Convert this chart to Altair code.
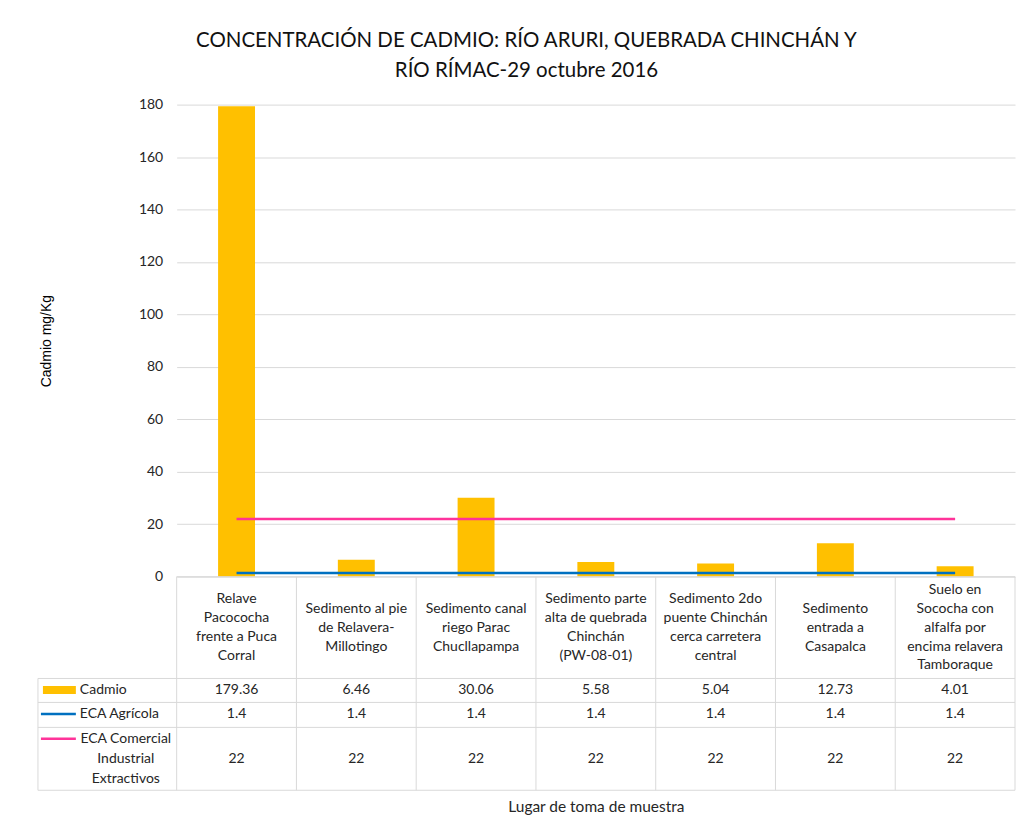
import altair as alt
import pandas as pd

# ---------------- data ----------------
categories = [
    "Relave Pacococha frente a Puca Corral",
    "Sedimento al pie de Relavera-Millotingo",
    "Sedimento canal riego Parac Chucllapampa",
    "Sedimento parte alta de quebrada Chinchán (PW-08-01)",
    "Sedimento 2do puente Chinchán cerca carretera central",
    "Sedimento entrada a Casapalca",
    "Suelo en Sococha con alfalfa por encima relavera Tamboraque",
]
category_labels = [
    "Relave\nPacococha\nfrente a Puca\nCorral",
    "Sedimento al pie\nde Relavera-\nMillotingo",
    "Sedimento canal\nriego Parac\nChucllapampa",
    "Sedimento parte\nalta de quebrada\nChinchán\n(PW-08-01)",
    "Sedimento 2do\npuente Chinchán\ncerca carretera\ncentral",
    "Sedimento\nentrada a\nCasapalca",
    "Suelo en\nSococha con\nalfalfa por\nencima relavera\nTamboraque",
]
cadmio = [179.36, 6.46, 30.06, 5.58, 5.04, 12.73, 4.01]
eca_agricola = [1.4, 1.4, 1.4, 1.4, 1.4, 1.4, 1.4]
eca_comercial = [22, 22, 22, 22, 22, 22, 22]
series_names = ["Cadmio", "ECA Agrícola", "ECA Comercial\nIndustrial\nExtractivos"]
y_ticks = [0, 20, 40, 60, 80, 100, 120, 140, 160, 180]

# ---------------- layout ----------------
W, H, TH = 840, 473, 214
HEADER_H = 102
ROW_EDGES = [102, 126, 151, 214]
ROW_CENTERS = [113.5, 137.5, 182.5]
LEG_LEFT = -139
LH_HDR = 19
LH_LEG = 20

FONT = "Lato"
TXT = "#262626"
GRID = "#D9D9D9"
C_BAR, C_BLUE, C_PINK = "#FFC000", "#0070C0", "#FF3399"
FS_TAB = 14

df = pd.DataFrame({"cat": categories, "label": category_labels,
                   "cadmio": cadmio, "eca_agr": eca_agricola, "eca_com": eca_comercial})

xs = alt.Scale(domain=categories, paddingInner=0, paddingOuter=0)

# ---------------- top chart ----------------
x_top = alt.X("cat:N", sort=categories, scale=xs, axis=None)
y_scale = alt.Scale(domain=[0, 180], nice=False)
y_axis = alt.Axis(values=y_ticks, title="Cadmio mg/Kg", labelFont=FONT, labelFontSize=14,
                  labelColor=TXT, labelPadding=14, ticks=False, domain=False,
                  gridColor=GRID, titleFont="Liberation Sans", titleFontSize=14,
                  titleFontWeight="normal", titleColor="#000", titlePadding=85)

bars = alt.Chart(df).mark_bar(color=C_BAR, size=37).encode(
    x=x_top, y=alt.Y("cadmio:Q", scale=y_scale, axis=y_axis))
blue = alt.Chart(df).mark_line(color=C_BLUE, strokeWidth=2.5).encode(
    x=x_top, y=alt.Y("eca_agr:Q", scale=y_scale))
pink = alt.Chart(df).mark_line(color=C_PINK, strokeWidth=2.5).encode(
    x=x_top, y=alt.Y("eca_com:Q", scale=y_scale))

top = alt.layer(bars, blue, pink).properties(width=W, height=H)

# ---------------- table chart ----------------
ts = alt.Scale(domain=[0, TH], reverse=True, nice=False, zero=False)
x_bot = alt.X("cat:N", sort=categories, scale=xs,
              axis=alt.Axis(labels=False, ticks=False, domain=False, grid=False,
                            title="Lugar de toma de muestra", titleFont=FONT,
                            titleFontSize=15.5, titleFontWeight="normal",
                            titleColor=TXT, titlePadding=9))

def ty(field):
    return alt.Y(field, type="quantitative", scale=ts, axis=None)

# first line position so that the wrapped block is centred in the header row
hdr = df.assign(yc=[HEADER_H / 2 - (lab.count("\n")) * LH_HDR / 2 for lab in category_labels])
header = alt.Chart(hdr).mark_text(font=FONT, fontSize=FS_TAB, lineHeight=LH_HDR, color=TXT,
                                  lineBreak="\n", baseline="middle").encode(
    x=x_bot, y=ty("yc"), text="label:N")

rows = []
for vals, yc in zip([cadmio, eca_agricola, eca_comercial], ROW_CENTERS):
    for c, v in zip(categories, vals):
        rows.append({"cat": c, "yc": yc, "txt": f"{v:g}"})
values = alt.Chart(pd.DataFrame(rows)).mark_text(font=FONT, fontSize=FS_TAB, color=TXT,
                                                 baseline="middle").encode(
    x=x_bot, y=ty("yc"), text="txt:N")

vlines_df = df.assign(y0=0, y1=TH)
vlines = alt.Chart(vlines_df).mark_rule(color=GRID, strokeWidth=1).encode(
    x=alt.X("cat:N", sort=categories, scale=xs, bandPosition=0), y=ty("y0"), y2="y1")
rlines = alt.Chart(vlines_df.tail(1)).mark_rule(color=GRID, strokeWidth=1).encode(
    x=alt.X("cat:N", sort=categories, scale=xs, bandPosition=1), y=ty("y0"), y2="y1")

top_line = alt.Chart(pd.DataFrame({"y": [0]})).mark_rule(color=GRID, strokeWidth=1).encode(
    x=alt.value(0), x2=alt.value(W), y=ty("y"))
hlines = alt.Chart(pd.DataFrame({"y": ROW_EDGES})).mark_rule(color=GRID, strokeWidth=1).encode(
    x=alt.value(LEG_LEFT), x2=alt.value(W), y=ty("y"))
leg_border = alt.Chart(pd.DataFrame({"y0": [ROW_EDGES[0]], "y1": [ROW_EDGES[-1]]})).mark_rule(
    color=GRID, strokeWidth=1).encode(x=alt.value(LEG_LEFT), y=ty("y0"), y2="y1")

sw = pd.DataFrame({"y0": [ROW_CENTERS[0] - 4], "y1": [ROW_CENTERS[0] + 4]})
swatch = alt.Chart(sw).mark_rect(color=C_BAR).encode(
    x=alt.value(-134), x2=alt.value(-101), y=ty("y0"), y2="y1")
leg3_first = ROW_CENTERS[2] - series_names[2].count("\n") * LH_LEG / 2
leg_blue = alt.Chart(pd.DataFrame({"y": [ROW_CENTERS[1]]})).mark_rule(
    color=C_BLUE, strokeWidth=2.5).encode(x=alt.value(-136), x2=alt.value(-101), y=ty("y"))
leg_pink = alt.Chart(pd.DataFrame({"y": [leg3_first]})).mark_rule(
    color=C_PINK, strokeWidth=2.5).encode(x=alt.value(-136), x2=alt.value(-101), y=ty("y"))

leg_txt_df = pd.DataFrame({"name": series_names[:2], "yc": ROW_CENTERS[:2]})
leg_txt = alt.Chart(leg_txt_df).mark_text(font=FONT, fontSize=FS_TAB, color=TXT, align="left",
                                          baseline="middle").encode(
    x=alt.value(-97), y=ty("yc"), text="name:N")
leg_txt3 = alt.Chart(pd.DataFrame({"name": [series_names[2]], "yc": [leg3_first]})).mark_text(
    font=FONT, fontSize=FS_TAB, color=TXT, align="center", baseline="middle",
    lineBreak="\n", lineHeight=LH_LEG).encode(
    x=alt.value(-51), y=ty("yc"), text="name:N")

bottom = alt.layer(vlines, rlines, top_line, hlines, leg_border, header, values,
                   swatch, leg_blue, leg_pink, leg_txt, leg_txt3).properties(width=W, height=TH)

chart = alt.vconcat(
    top, bottom, spacing=0, bounds="flush",
    title=alt.TitleParams(
        ["CONCENTRACIÓN DE CADMIO: RÍO ARURI, QUEBRADA CHINCHÁN Y", "RÍO RÍMAC-29 octubre 2016"],
        font=FONT, fontSize=20.5, fontWeight="normal", color="#111", lineHeight=30,
        anchor="middle", offset=16),
).properties(
    padding={"left": 29, "top": 22, "right": 0, "bottom": 5}
).configure_view(stroke=None).configure_concat(spacing=0)

chart.save("out.html", embed_options={"renderer": "svg", "actions": False})
